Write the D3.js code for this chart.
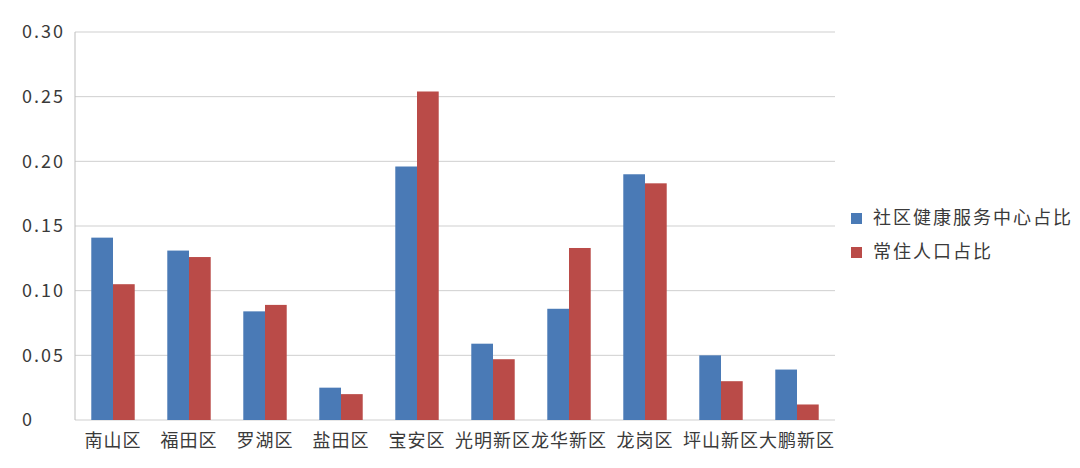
<!DOCTYPE html>
<html>
<head>
<meta charset="utf-8">
<script src="https://cdn.jsdelivr.net/npm/d3@7/dist/d3.min.js"></script>
<style>
  body { margin: 0; background: #fff; }
  text { font-family: "Noto Sans CJK SC", "Noto Sans", sans-serif; fill: #3a3a3a; }
</style>
</head>
<body>
<svg id="chart" width="1080" height="468"></svg>
<script>
// 各区占比
const districts = ["南山区", "福田区", "罗湖区", "盐田区", "宝安区", "光明新区", "龙华新区", "龙岗区", "坪山新区", "大鹏新区"];
const centerShare = [0.141, 0.131, 0.084, 0.025, 0.196, 0.059, 0.086, 0.190, 0.050, 0.039];
const popShare = [0.105, 0.126, 0.089, 0.020, 0.254, 0.047, 0.133, 0.183, 0.030, 0.012];
const seriesNames = ["社区健康服务中心占比", "常住人口占比"];
const yTicks = [0, 0.05, 0.10, 0.15, 0.20, 0.25, 0.30];

const colors = ["#4a7ab6", "#ba4b48"];
const margin = { left: 75, right: 245, top: 32, bottom: 48 };
const W = 1080, H = 468;

const svg = d3.select("#chart");
const x = d3.scaleBand().domain(districts).range([margin.left, W - margin.right]);
const y = d3.scaleLinear().domain([0, 0.30]).range([H - margin.bottom, margin.top]);

// two bars per group, gap 150% of bar width
const bw = x.bandwidth() / 3.5;
const x1 = d3.scaleBand().domain([0, 1]).range([x.bandwidth() / 2 - bw, x.bandwidth() / 2 + bw]);

// grid
svg.append("g")
  .selectAll("line")
  .data(yTicks)
  .join("line")
  .attr("x1", margin.left).attr("x2", W - margin.right)
  .attr("y1", d => y(d)).attr("y2", d => y(d))
  .attr("stroke", "#cfcfcf").attr("stroke-width", 1);

// left axis line
svg.append("line")
  .attr("x1", margin.left).attr("x2", margin.left)
  .attr("y1", y(0.30)).attr("y2", y(0))
  .attr("stroke", "#bdbdbd");

// y labels, left aligned like the original
svg.append("g")
  .selectAll("text")
  .data(yTicks)
  .join("text")
  .attr("x", 22)
  .attr("y", d => y(d))
  .attr("dy", "0.35em")
  .style("font-size", "18px")
  .style("letter-spacing", "2px")
  .text(d => d === 0 ? "0" : d3.format(".2f")(d));

// bars
const data = districts.map((d, i) => ({ name: d, vals: [centerShare[i], popShare[i]] }));
const groups = svg.append("g")
  .selectAll("g")
  .data(data)
  .join("g")
  .attr("transform", d => `translate(${x(d.name)},0)`);

groups.selectAll("rect")
  .data(d => d.vals.map((v, k) => ({ v, k })))
  .join("rect")
  .attr("x", d => x1(d.k))
  .attr("width", x1.bandwidth())
  .attr("y", d => y(d.v))
  .attr("height", d => y(0) - y(d.v))
  .attr("fill", d => colors[d.k]);

// x labels
svg.append("g")
  .selectAll("text")
  .data(districts)
  .join("text")
  .attr("x", d => x(d) + x.bandwidth() / 2)
  .attr("y", y(0) + 21)
  .attr("dy", "0.35em")
  .attr("text-anchor", "middle")
  .style("font-size", "18px")
  .style("letter-spacing", "1px")
  .text(d => d);

// legend
const legend = svg.append("g")
  .selectAll("g")
  .data(seriesNames)
  .join("g")
  .attr("transform", (d, i) => `translate(851,${218 + i * 34})`);

legend.append("rect")
  .attr("x", 0).attr("y", -5)
  .attr("width", 11).attr("height", 11)
  .attr("fill", (d, i) => colors[i]);

legend.append("text")
  .attr("x", 22)
  .attr("dy", "0.35em")
  .style("font-size", "18px")
  .style("letter-spacing", "2px")
  .text(d => d);
</script>
</body>
</html>
